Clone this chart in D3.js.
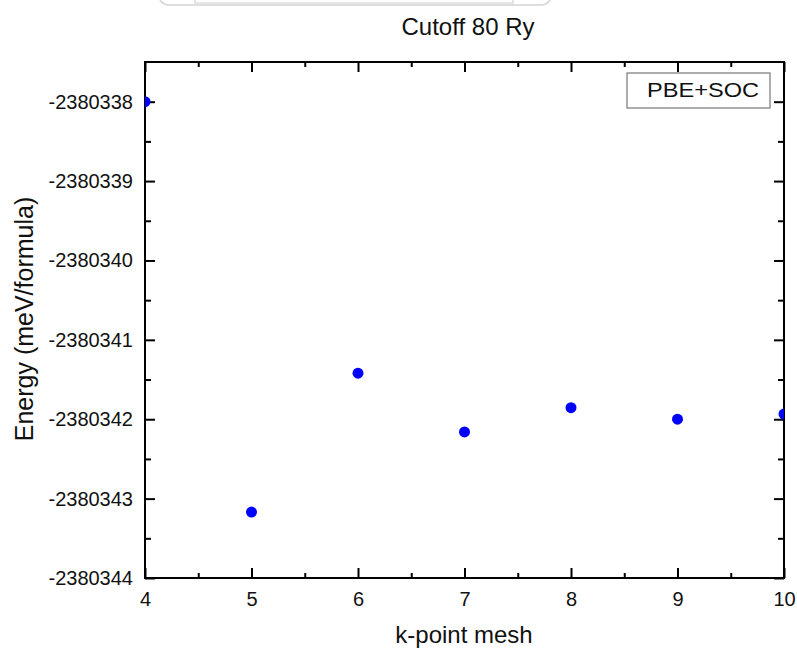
<!DOCTYPE html>
<html>
<head>
<meta charset="utf-8">
<script src="https://cdn.jsdelivr.net/npm/d3@7/dist/d3.min.js"></script>
<style>
  html, body { margin: 0; padding: 0; background: #fff; }
  svg { display: block; }
  svg text { font-family: "Liberation Sans", Arial, sans-serif; }
</style>
</head>
<body>
<script>
// ---- data ----
const kMesh = [4, 5, 6, 7, 8, 9, 10];
const energy = [-2380338.0, -2380343.17, -2380341.42, -2380342.16, -2380341.855, -2380342.0, -2380341.935];
const xTicks = [4, 5, 6, 7, 8, 9, 10];
const xMinorTicks = [4.5, 5.5, 6.5, 7.5, 8.5, 9.5];
const yTicks = [-2380344, -2380343, -2380342, -2380341, -2380340, -2380339, -2380338];
const yMinorTicks = [-2380343.5, -2380342.5, -2380341.5, -2380340.5, -2380339.5, -2380338.5];
const seriesName = "PBE+SOC";
const title = "Cutoff 80 Ry";
const xLabel = "k-point mesh";
const yLabel = "Energy (meV/formula)";

const W = 797, H = 651;
const m = { left: 145, right: 13, top: 62, bottom: 73 };
const iw = W - m.left - m.right, ih = H - m.top - m.bottom;
const FONT = '"Liberation Sans", Arial, sans-serif';

const svg = d3.select("body").append("svg").attr("width", W).attr("height", H);

// faint artifact at top
svg.append("path").attr("d", "M160,0 Q163,5 170,5 L540,5 Q547,5 550,0")
  .attr("fill", "none").attr("stroke", "#d4d4d4").attr("stroke-width", 1.5);
svg.append("path").attr("d", "M195,0 L195,3 L513,3 L513,0")
  .attr("fill", "none").attr("stroke", "#d0d0d0").attr("stroke-width", 1.2);

const x = d3.scaleLinear().domain([4, 10]).range([0, iw]);
const y = d3.scaleLinear().domain([-2380344, -2380337.5]).range([ih, 0]);

const g = svg.append("g").attr("transform", `translate(${m.left},${m.top})`);

g.append("clipPath").attr("id", "clip").append("rect").attr("width", iw).attr("height", ih);

const fmt = d => String(d);

function styleAxis(sel) {
  sel.attr("font-family", FONT).attr("font-size", 20);
  sel.selectAll("path.domain").remove();
  sel.selectAll("line").attr("stroke", "#000").attr("stroke-width", 2);
  sel.selectAll("text").attr("fill", "#111");
}

// minor ticks
g.append("g").attr("transform", `translate(0,${ih})`)
  .call(d3.axisBottom(x).tickValues(xMinorTicks).tickSize(-5).tickFormat(""))
  .call(styleAxis);
g.append("g")
  .call(d3.axisTop(x).tickValues(xMinorTicks).tickSize(-5).tickFormat(""))
  .call(styleAxis);
g.append("g")
  .call(d3.axisLeft(y).tickValues(yMinorTicks).tickSize(-6).tickFormat(""))
  .call(styleAxis);
g.append("g").attr("transform", `translate(${iw},0)`)
  .call(d3.axisRight(y).tickValues(yMinorTicks).tickSize(-6).tickFormat(""))
  .call(styleAxis);

// major ticks
g.append("g").attr("transform", `translate(0,${ih})`)
  .call(d3.axisBottom(x).tickValues(xTicks).tickSize(-10).tickPadding(14).tickFormat(fmt))
  .call(styleAxis);
g.append("g")
  .call(d3.axisTop(x).tickValues(xTicks).tickSize(-10).tickFormat(""))
  .call(styleAxis);
g.append("g")
  .call(d3.axisLeft(y).tickValues(yTicks).tickSize(-10).tickPadding(12).tickFormat(fmt))
  .call(styleAxis);
g.append("g").attr("transform", `translate(${iw},0)`)
  .call(d3.axisRight(y).tickValues(yTicks).tickSize(-10).tickFormat(""))
  .call(styleAxis);

// frame
g.append("rect").attr("width", iw).attr("height", ih)
  .attr("fill", "none").attr("stroke", "#000").attr("stroke-width", 2);

// points
g.append("g").attr("clip-path", "url(#clip)")
  .selectAll("circle").data(kMesh.map((k, i) => [k, energy[i]])).join("circle")
  .attr("cx", d => x(d[0])).attr("cy", d => y(d[1])).attr("r", 5.5)
  .attr("fill", "#0000ff");

// legend
g.append("rect").attr("x", 627 - m.left).attr("y", 73 - m.top).attr("width", 143).attr("height", 35)
  .attr("fill", "#fff").attr("stroke", "#777").attr("stroke-width", 1.2);
g.append("text").attr("x", 647 - m.left).attr("y", 97 - m.top)
  .attr("textLength", 112).attr("lengthAdjust", "spacingAndGlyphs")
  .style("font-size", "21px").attr("fill", "#111").text(seriesName);

// title
svg.append("text").attr("x", 468).attr("y", 35).attr("text-anchor", "middle")
  .style("font-size", "24px").attr("fill", "#111").text(title);

// axis labels
svg.append("text").attr("x", 464).attr("y", 643).attr("text-anchor", "middle")
  .style("font-size", "24px").attr("fill", "#111").text(xLabel);
svg.append("text").attr("transform", "translate(33,319) rotate(-90)").attr("text-anchor", "middle")
  .style("font-size", "25px").attr("fill", "#111").text(yLabel);
</script>
</body>
</html>
